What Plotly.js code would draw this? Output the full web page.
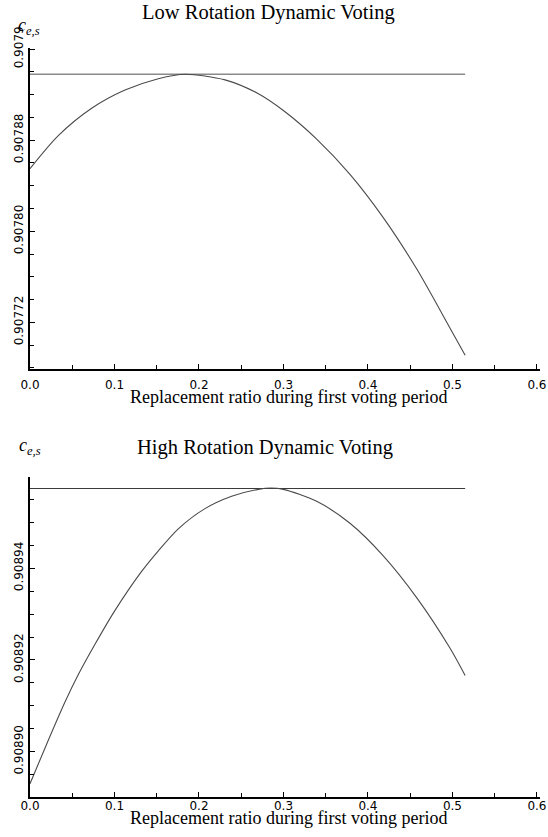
<!DOCTYPE html>
<html>
<head>
<meta charset="utf-8">
<script src="https://cdn.plot.ly/plotly-3.0.1.min.js"></script>
<style>html,body{margin:0;padding:0;background:#fff;}#chart{width:548px;height:837px;}</style>
</head>
<body>
<div id="chart"></div>
<script>
// ---- data ----
var lowX = [0, 0.0335, 0.073, 0.1124, 0.1518, 0.1834, 0.2308, 0.2698, 0.3018, 0.3393, 0.3787, 0.4181, 0.4576, 0.497, 0.515];
var lowY = [0.907855, 0.907884, 0.907908, 0.907924, 0.907934, 0.907938, 0.907933, 0.907921, 0.907905, 0.907881, 0.907850, 0.907812, 0.907767, 0.907715, 0.907691];
var lowMaxX = [0, 0.515];
var lowMaxY = [0.907938, 0.907938];

var highX = [0, 0.0178, 0.0414, 0.0572, 0.0769, 0.1006, 0.1321, 0.1519, 0.1755, 0.2071, 0.2387, 0.2702, 0.285, 0.2998, 0.3393, 0.3787, 0.4181, 0.4576, 0.497, 0.515];
var highY = [0.908893, 0.9089008, 0.9089108, 0.9089168, 0.9089234, 0.9089308, 0.9089393, 0.9089438, 0.9089486, 0.9089530, 0.9089557, 0.9089572, 0.9089575, 0.9089572, 0.9089546, 0.9089498, 0.9089427, 0.9089336, 0.9089226, 0.9089166];
var highMaxX = [0, 0.515];
var highMaxY = [0.9089574, 0.9089574];

var xTickVals = [0, 0.1, 0.2, 0.3, 0.4, 0.5, 0.6];
var xTickText = ['0.0', '0.1', '0.2', '0.3', '0.4', '0.5', '0.6'];
var lowTickVals = [0.90772, 0.90780, 0.90788, 0.90796];
var lowTickText = ['0.90772', '0.90780', '0.90788', '0.9079'];
var highTickVals = [0.90890, 0.90892, 0.90894, 0.90896];
var highTickText = ['0.90890', '0.90892', '0.90894', '0.9089'];

var titleLow = 'Low Rotation Dynamic Voting';
var titleHigh = 'High Rotation Dynamic Voting';
var xTitle = 'Replacement ratio during first voting period';
var yLabel = '<i>c</i><sub><i>e,s</i></sub>';

// ---- layout helpers ----
var W = 548, H = 837;
function py(p) { return 1 - p / H; }
function px(p) { return p / W; }

var serif = 'Liberation Serif, Times New Roman, serif';
var sans = 'DejaVu Sans, Liberation Sans, Arial, sans-serif';

var traces = [
  {x: lowMaxX, y: lowMaxY, xaxis: 'x', yaxis: 'y', mode: 'lines', line: {color: '#8a8a8a', width: 1.6}, hoverinfo: 'skip'},
  {x: lowX, y: lowY, xaxis: 'x', yaxis: 'y', mode: 'lines', line: {color: '#4a4a4a', width: 1.1, shape: 'spline', smoothing: 0.8}},
  {x: highMaxX, y: highMaxY, xaxis: 'x2', yaxis: 'y2', mode: 'lines', line: {color: '#3a3a3a', width: 1.1}, hoverinfo: 'skip'},
  {x: highX, y: highY, xaxis: 'x2', yaxis: 'y2', mode: 'lines', line: {color: '#4a4a4a', width: 1.1, shape: 'spline', smoothing: 0.8}}
];

function xAxis(anchor, standoff) {
  return {
    anchor: anchor, domain: [px(30), px(540)], range: [0, 0.6036],
    showline: true, linecolor: '#000', linewidth: 2, zeroline: false, showgrid: false,
    ticks: 'inside', ticklen: 5, tickwidth: 1, tickcolor: '#000',
    tickmode: 'array', tickvals: xTickVals, ticktext: xTickText,
    ticklabelstandoff: standoff,
    tickfont: {family: sans, size: 12, color: '#000'},
    minor: {ticks: 'inside', ticklen: 4, tickwidth: 1, tickcolor: '#000', tickmode: 'linear', tick0: 0, dtick: 0.05},
    fixedrange: true
  };
}
function yAxis(anchor, domain, range, vals, text, mtick0, mdtick) {
  return {
    anchor: anchor, domain: domain, range: range,
    showline: true, linecolor: '#000', linewidth: 2, zeroline: false, showgrid: false,
    ticks: 'inside', ticklen: 5, tickwidth: 1, tickcolor: '#000',
    tickmode: 'array', tickvals: vals, ticktext: text, tickangle: -90,
    tickfont: {family: sans, size: 12, color: '#000'},
    minor: {ticks: 'inside', ticklen: 4, tickwidth: 1, tickcolor: '#000', tickmode: 'linear', tick0: mtick0, dtick: mdtick},
    fixedrange: true
  };
}

var layout = {
  width: W, height: H,
  margin: {l: 0, r: 0, t: 0, b: 0},
  paper_bgcolor: '#fff', plot_bgcolor: 'rgba(0,0,0,0)',
  showlegend: false,
  xaxis: xAxis('y', 4),
  yaxis: yAxis('x', [py(369), py(48)], [0.907679, 0.907961], lowTickVals, lowTickText, 0.90772, 0.00002),
  xaxis2: xAxis('y2', -3),
  yaxis2: yAxis('x2', [py(797), py(477)], [0.9088901, 0.9089599], highTickVals, highTickText, 0.90890, 0.000005),
  annotations: [
    {text: titleLow, xref: 'paper', yref: 'paper', x: px(268), y: py(13), xanchor: 'center', yanchor: 'middle', showarrow: false, font: {family: serif, size: 20.5, color: '#000'}},
    {text: titleHigh, xref: 'paper', yref: 'paper', x: px(265), y: py(447), xanchor: 'center', yanchor: 'middle', showarrow: false, font: {family: serif, size: 20.5, color: '#000'}},
    {text: xTitle, xref: 'paper', yref: 'paper', x: px(288), y: py(397), xanchor: 'center', yanchor: 'middle', showarrow: false, font: {family: serif, size: 18, color: '#000'}},
    {text: xTitle, xref: 'paper', yref: 'paper', x: px(288), y: py(818), xanchor: 'center', yanchor: 'middle', showarrow: false, font: {family: serif, size: 18, color: '#000'}},
    {text: yLabel, xref: 'paper', yref: 'paper', x: px(16), y: py(27), xanchor: 'left', yanchor: 'middle', showarrow: false, font: {family: serif, size: 18, color: '#000'}},
    {text: yLabel, xref: 'paper', yref: 'paper', x: px(17), y: py(446), xanchor: 'left', yanchor: 'middle', showarrow: false, font: {family: serif, size: 18, color: '#000'}}
  ]
};

Plotly.newPlot('chart', traces, layout, {displayModeBar: false, staticPlot: true});
</script>
</body>
</html>
